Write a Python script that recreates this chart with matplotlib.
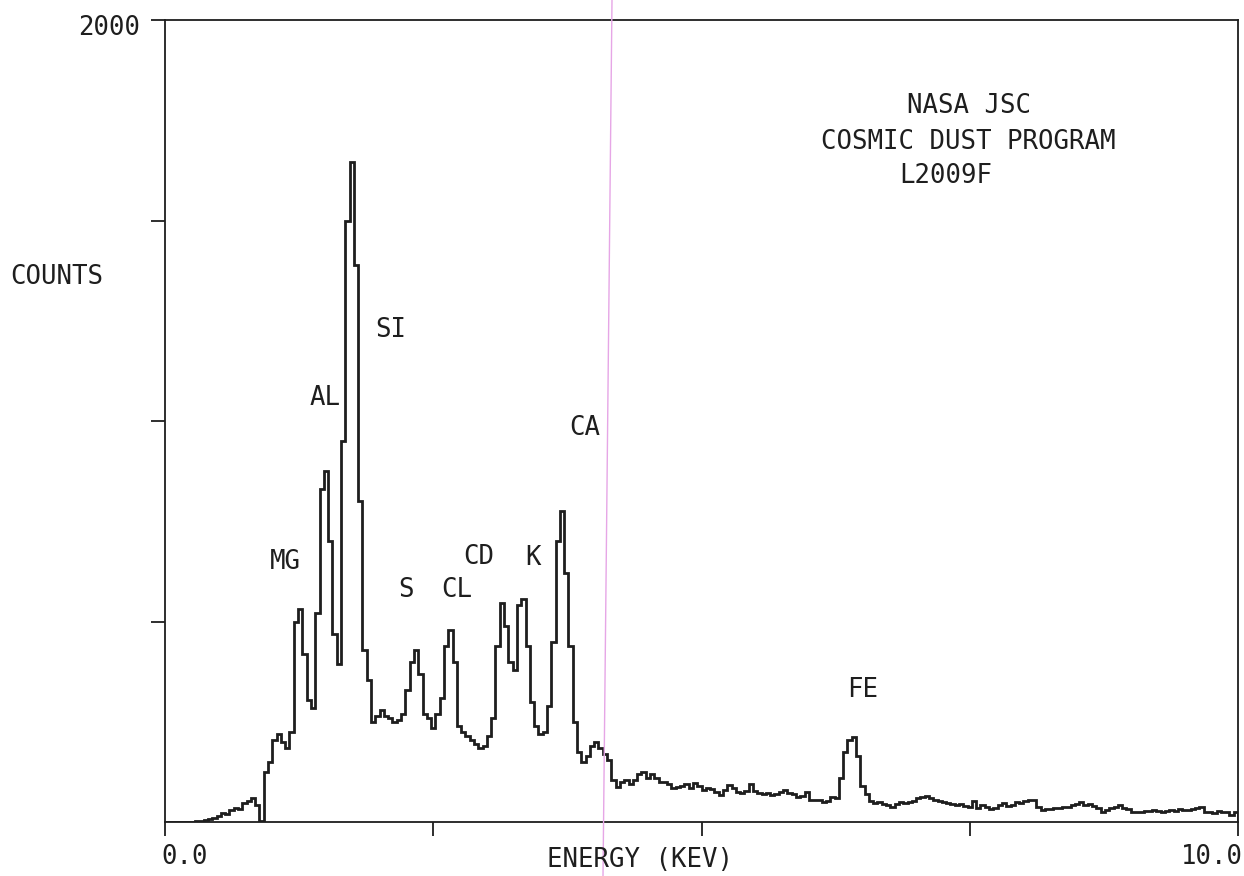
import numpy as np
import matplotlib
matplotlib.use("Agg")
import matplotlib.pyplot as plt
from matplotlib.lines import Line2D

# ---- data: EDS spectrum, 0.04 keV channels from 0.00 to 10.00 keV ----
bin_width = 0.04
counts = [
    # 0.00 - 0.96
    0, 0, 0, 0, 0, 0, 0, 2, 3, 5, 8, 10, 15, 22, 20, 30, 35, 32, 48, 52, 60, 42, 3, 125, 150,
    # 1.00 - 1.96
    205, 220, 200, 185, 225, 500, 530, 420, 305, 285, 520, 830, 875, 700, 470, 395, 950, 1500, 1645, 1390,
    800, 430, 355, 250, 265,
    # 2.00 - 2.96
    280, 265, 260, 250, 255, 270, 330, 400, 430, 370, 270, 260, 235, 270, 310, 440, 480, 400, 240, 225,
    215, 205, 195, 185, 190,
    # 3.00 - 3.96
    215, 260, 440, 545, 490, 400, 380, 540, 555, 440, 300, 240, 220, 225, 290, 450, 700, 775, 620, 440,
    250, 175, 150, 165, 190,
    # 4.00 - 4.96
    200, 185, 170, 155, 105, 88, 100, 105, 95, 105, 120, 125, 110, 120, 110, 100, 100, 95, 85, 88,
    90, 95, 85, 97, 90,
    # 5.00 - 5.96
    80, 85, 82, 75, 68, 80, 92, 85, 75, 72, 78, 95, 78, 72, 70, 72, 67, 70, 75, 80,
    72, 70, 62, 65, 75,
    # 6.00 - 6.96
    55, 55, 55, 50, 52, 62, 60, 110, 175, 205, 212, 165, 90, 70, 52, 48, 50, 45, 42, 38,
    45, 50, 48, 50, 52,
    # 7.00 - 7.96
    60, 62, 65, 60, 55, 52, 50, 47, 45, 42, 45, 40, 38, 52, 36, 42, 38, 32, 35, 42,
    47, 40, 42, 50, 48,
    # 8.00 - 8.96
    52, 55, 56, 38, 30, 32, 33, 34, 35, 37, 38, 42, 45, 50, 42, 44, 40, 35, 25, 30,
    34, 38, 42, 35, 32,
    # 9.00 - 9.96
    25, 26, 25, 27, 28, 30, 28, 26, 28, 30, 28, 32, 30, 29, 32, 34, 38, 26, 24, 22,
    28, 26, 24, 17, 25,
]
edges = np.arange(len(counts) + 1) * bin_width

element_labels = ["MG", "AL", "SI", "S", "CL", "CD", "K", "CA", "FE"]
label_x = [1.12, 1.49, 2.10, 2.25, 2.72, 2.92, 3.43, 3.91, 6.50]
label_y = [648, 1057, 1227, 579, 579, 661, 658, 983, 329]

title_lines = ["NASA JSC", "COSMIC DUST PROGRAM", "L2009F"]

# ---- figure ----
FONT = ["DejaVu Sans Mono"]
INK = "#1e1e1e"
fig = plt.figure(figsize=(12.44, 8.76), dpi=100)
ax = fig.add_axes([165 / 1244, 54 / 876, (1238 - 165) / 1244, (822 - 20) / 876])

ax.stairs(counts, edges, color=INK, linewidth=2.0)

ax.set_xlim(0, 10)
ax.set_ylim(0, 2000)
ax.set_xticks([0, 2.5, 5, 7.5, 10])
ax.set_xticklabels([])
ax.set_yticks([500, 1000, 1500, 2000])
ax.set_yticklabels([])
ax.tick_params(axis="both", direction="out", length=10, width=1.3, color=INK)
for s in ax.spines.values():
    s.set_linewidth(1.3)
    s.set_color(INK)

fs = 18.5
for lab, x, y in zip(element_labels, label_x, label_y):
    ax.text(x, y, lab, ha="center", va="center", fontsize=fs, family=FONT, color=INK)

ax.text(7.49, 1785, title_lines[0], ha="center", va="center", fontsize=fs, family=FONT, color=INK)
ax.text(7.49, 1697, title_lines[1], ha="center", va="center", fontsize=fs, family=FONT, color=INK)
ax.text(7.28, 1612, title_lines[2], ha="center", va="center", fontsize=fs, family=FONT, color=INK)

# axis texts
fig.text(140 / 1244, 1 - 28 / 876, "2000", ha="right", va="center", fontsize=fs, family=FONT, color=INK)
fig.text(57 / 1244, 1 - 277 / 876, "COUNTS", ha="center", va="center", fontsize=fs, family=FONT, color=INK)
fig.text(185 / 1244, 1 - 857 / 876, "0.0", ha="center", va="center", fontsize=fs, family=FONT, color=INK)
fig.text(1212 / 1244, 1 - 857 / 876, "10.0", ha="center", va="center", fontsize=fs, family=FONT, color=INK)
fig.text(640 / 1244, 1 - 860 / 876, "ENERGY (KEV)", ha="center", va="center", fontsize=fs, family=FONT, color=INK)

# pink scan line artifact
fig.add_artist(Line2D([612 / 1244, 603 / 1244], [1, 0], transform=fig.transFigure,
                      color="#e6a6e6", linewidth=1.0))

fig.savefig("out.png", dpi=100)
